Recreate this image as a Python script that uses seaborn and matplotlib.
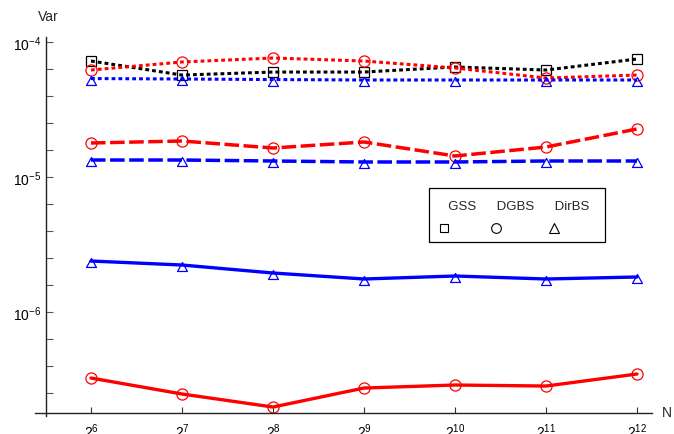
import numpy as np
import pandas as pd
import matplotlib
matplotlib.use("Agg")
import matplotlib.pyplot as plt
import seaborn as sns
from matplotlib.ticker import FixedLocator, NullFormatter, NullLocator, LogFormatterMathtext
from matplotlib.path import Path
from matplotlib.offsetbox import VPacker
from matplotlib.lines import Line2D

# ---------------- data ----------------
N = [64, 128, 256, 512, 1024, 2048, 4096]
methods = ["GSS", "DGBS", "DirBS"]
gss_dotted = [7.23e-5, 5.69e-5, 5.99e-5, 5.99e-5, 6.53e-5, 6.20e-5, 7.48e-5]
dgbs_dotted = [6.20e-5, 7.11e-5, 7.61e-5, 7.23e-5, 6.42e-5, 5.41e-5, 5.69e-5]
dirbs_dotted = [5.36e-5, 5.32e-5, 5.27e-5, 5.23e-5, 5.23e-5, 5.23e-5, 5.23e-5]
dgbs_dashed = [1.786e-5, 1.848e-5, 1.640e-5, 1.817e-5, 1.431e-5, 1.668e-5, 2.268e-5]
dirbs_dashed = [1.336e-5, 1.336e-5, 1.314e-5, 1.292e-5, 1.292e-5, 1.314e-5, 1.314e-5]
dirbs_solid = [2.386e-6, 2.229e-6, 1.945e-6, 1.756e-6, 1.848e-6, 1.756e-6, 1.817e-6]
dgbs_solid = [3.244e-7, 2.470e-7, 1.978e-7, 2.735e-7, 2.879e-7, 2.830e-7, 3.473e-7]
y_major = [1e-6, 1e-5, 1e-4]

# ---------------- style ----------------
sns.set_theme(style="ticks")
plt.rcParams["font.family"] = ["Liberation Sans", "DejaVu Sans"]
plt.rcParams["mathtext.fontset"] = "custom"
plt.rcParams["mathtext.rm"] = "Liberation Sans"
plt.rcParams["mathtext.it"] = "Liberation Sans:italic"
plt.rcParams["mathtext.bf"] = "Liberation Sans:bold"
plt.rcParams["axes.unicode_minus"] = True

fig = plt.figure(figsize=(6.74, 4.35), dpi=100)
fig.patch.set_facecolor("white")
ax = fig.add_axes([35 / 674, 21 / 435, 617 / 674, 376 / 435])
ax.set_facecolor("white")
ax.set_xscale("log", base=2)
ax.set_yscale("log", base=10)

tri = Path([(0, 0.6), (-1, -1.2), (1, -1.2), (0, 0.6)],
           [Path.MOVETO, Path.LINETO, Path.LINETO, Path.CLOSEPOLY])

dotted = (0, (1.25, 1.0))
dashed = (0, (4.2, 1.3))
series = [
    (gss_dotted, "black", dotted, 2.2, "s", 7.4),
    (dgbs_dotted, "red", dotted, 2.2, "o", 8.0),
    (dirbs_dotted, "blue", dotted, 2.2, tri, 8.6),
    (dgbs_dashed, "red", dashed, 2.5, "o", 8.0),
    (dirbs_dashed, "blue", dashed, 2.5, tri, 8.6),
    (dirbs_solid, "blue", "-", 2.4, tri, 8.6),
    (dgbs_solid, "red", "-", 2.4, "o", 8.0),
]
for vals, c, ls, lw, mk, ms in series:
    df = pd.DataFrame({"N": N, "Var": vals})
    sns.lineplot(data=df, x="N", y="Var", ax=ax, color=c, linestyle=ls,
                 linewidth=lw, marker=mk, markersize=ms,
                 markerfacecolor="none", markeredgecolor=c,
                 markeredgewidth=0.9, errorbar=None, clip_on=False)

ax.set_xlim(2 ** 5.385, 2 ** 12.165)
ax.set_ylim(10 ** -6.748, 10 ** -3.963)

# axes styling
for s in ["top", "right"]:
    ax.spines[s].set_visible(False)
ax.spines["left"].set_position(("data", 2 ** 5.505))
ax.spines["left"].set_bounds(10 ** -6.772, 10 ** -3.963)
for s in ["left", "bottom"]:
    ax.spines[s].set_color("#222222")
    ax.spines[s].set_linewidth(1.0)

ax.xaxis.set_major_locator(FixedLocator(N))
ax.xaxis.set_major_formatter(LogFormatterMathtext(base=2))
ax.xaxis.set_minor_locator(NullLocator())
ax.yaxis.set_major_locator(FixedLocator(y_major))
ax.yaxis.set_major_formatter(LogFormatterMathtext(base=10))
minor = [10 ** (-4 - 0.2 * k) for k in range(0, 15) if k % 5 != 0]
ax.yaxis.set_minor_locator(FixedLocator(minor))
ax.yaxis.set_minor_formatter(NullFormatter())
ax.tick_params(axis="x", which="major", direction="in", length=4.5, width=0.8,
               color="#333333", labelsize=10, pad=6.0, labelcolor="black")
ax.tick_params(axis="y", which="both", direction="in", length=5, width=0.8,
               color="#555555", labelsize=10, pad=3, labelcolor="black")
ax.set_xlabel("")
ax.set_ylabel("")

fig.text(48 / 674, 1 - 17 / 435, "Var", ha="center", va="center", fontsize=10)
fig.text(662 / 674, 1 - 413 / 435, "N", ha="left", va="center", fontsize=10)

# legend: labels above markers
handles = [
    Line2D([], [], linestyle="none", marker="s", markersize=5.4,
           markerfacecolor="none", markeredgecolor="black", markeredgewidth=0.8),
    Line2D([], [], linestyle="none", marker="o", markersize=7.0,
           markerfacecolor="none", markeredgecolor="black", markeredgewidth=0.8),
    Line2D([], [], linestyle="none", marker="^", markersize=6.6,
           markerfacecolor="none", markeredgecolor="black", markeredgewidth=0.8),
]
leg_labels = ["  " + methods[0], " " + methods[1], " " + methods[2] + " "]
leg = ax.legend(handles, leg_labels, ncol=3, loc="upper left",
                bbox_to_anchor=(0.6386, 0.4984, 0.2853, 0.1), borderaxespad=0,
                mode="expand",
                fontsize=9.5, frameon=True, fancybox=False, framealpha=1,
                edgecolor="black", handlelength=0.45, handleheight=0.3,
                columnspacing=1.0, borderpad=0.88, handletextpad=0.3)
leg.get_frame().set_linewidth(0.9)
for col in leg._legend_handle_box.get_children():
    for item in col.get_children():
        h, t = item.get_children()
        item.__class__ = VPacker
        item._children = [t, h]
        item.align = "left"
        item.sep = 9
        item.pad = 0

fig.savefig("out.png", dpi=100, facecolor="white")
